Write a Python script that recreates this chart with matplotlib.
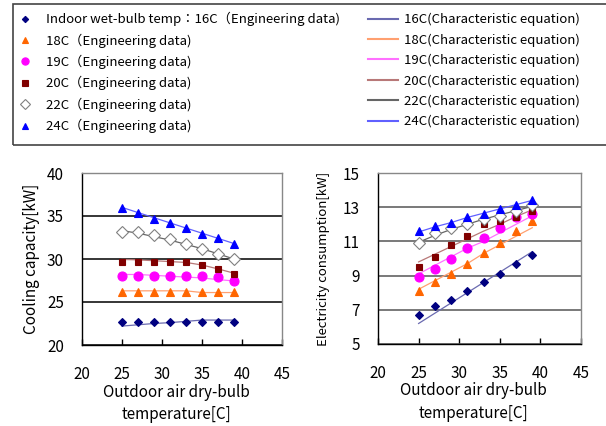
import numpy as np
import matplotlib
matplotlib.use('Agg')
import matplotlib.pyplot as plt
from matplotlib.lines import Line2D
from matplotlib.patches import Rectangle

plt.rcParams['font.family'] = ['Noto Sans CJK JP', 'DejaVu Sans']

########################################
# data

t_out = [25, 27, 29, 31, 33, 35, 37, 39]
wb_labels = ['16C', '18C', '19C', '20C', '22C', '24C']

# cooling capacity [kW], engineering data
cap_16 = [22.7, 22.7, 22.7, 22.7, 22.7, 22.7, 22.7, 22.7]
cap_18 = [26.2, 26.2, 26.2, 26.2, 26.2, 26.2, 26.2, 26.2]
cap_19 = [28.0, 28.0, 28.0, 28.0, 28.0, 28.0, 27.9, 27.4]
cap_20 = [29.7, 29.7, 29.7, 29.7, 29.7, 29.3, 28.8, 28.3]
cap_22 = [33.1, 33.1, 32.8, 32.3, 31.7, 31.2, 30.6, 30.0]
cap_24 = [35.9, 35.4, 34.7, 34.2, 33.6, 32.9, 32.4, 31.7]

# cooling capacity [kW], characteristic equation
cap_eq_16 = [22.2, 22.35, 22.5, 22.6, 22.75, 22.9, 22.9, 22.9]
cap_eq_18 = [26.3, 26.3, 26.3, 26.3, 26.3, 26.1, 26.1, 26.1]
cap_eq_19 = [28.2, 28.2, 28.1, 28.0, 27.9, 27.8, 27.6, 27.45]
cap_eq_20 = [29.95, 29.9, 29.8, 29.7, 29.6, 29.3, 28.85, 28.35]
cap_eq_22 = [33.3, 33.0, 32.6, 32.2, 31.7, 31.2, 30.6, 30.0]
cap_eq_24 = [36.0, 35.4, 34.8, 34.2, 33.6, 33.0, 32.4, 31.8]

# electricity consumption [kW], engineering data
el_16 = [6.7, 7.2, 7.6, 8.1, 8.6, 9.1, 9.7, 10.2]
el_18 = [8.1, 8.6, 9.1, 9.7, 10.3, 10.9, 11.6, 12.2]
el_19 = [8.9, 9.4, 10.0, 10.6, 11.2, 11.8, 12.4, 12.6]
el_20 = [9.5, 10.1, 10.8, 11.3, 12.0, 12.2, 12.4, 12.8]
el_22 = [10.9, 11.5, 11.8, 12.0, 12.3, 12.5, 12.8, 13.1]
el_24 = [11.6, 11.9, 12.1, 12.4, 12.6, 12.9, 13.1, 13.4]

# electricity consumption [kW], characteristic equation
el_eq_16 = [6.2, 6.8, 7.4, 8.0, 8.6, 9.2, 9.8, 10.4]
el_eq_18 = [8.2, 8.7, 9.2, 9.7, 10.3, 10.8, 11.3, 11.8]
el_eq_19 = [9.1, 9.6, 10.1, 10.6, 11.0, 11.5, 12.0, 12.5]
el_eq_20 = [9.8, 10.25, 10.7, 11.15, 11.6, 12.0, 12.45, 12.85]
el_eq_22 = [10.95, 11.35, 11.7, 12.0, 12.3, 12.55, 12.8, 13.05]
el_eq_24 = [11.55, 11.85, 12.1, 12.4, 12.65, 12.9, 13.15, 13.4]

cap_data = [cap_16, cap_18, cap_19, cap_20, cap_22, cap_24]
cap_eq = [cap_eq_16, cap_eq_18, cap_eq_19, cap_eq_20, cap_eq_22, cap_eq_24]
el_data = [el_16, el_18, el_19, el_20, el_22, el_24]
el_eq = [el_eq_16, el_eq_18, el_eq_19, el_eq_20, el_eq_22, el_eq_24]

########################################
# styles

markers = ['D', '^', 'o', 's', 'D', '^']
msizes = [4, 6, 6.5, 5, 6, 6]
mface = ['#000080', '#ff6600', '#ff00ff', '#800000', 'white', '#0000ff']
medge = ['#000080', '#ff6600', '#ff00ff', '#800000', '#808080', '#0000ff']
line_cols = ['#6a6ab0', '#ffa070', '#ff70ff', '#b87878', '#666666', '#6060ff']

fig = plt.figure(figsize=(6.06, 4.26), dpi=100)

ax1 = fig.add_axes([82/606, 1-345/426, 200/606, 172/426])
ax2 = fig.add_axes([378/606, 1-344/426, 203/606, 171/426])


def style_axis(ax, ylim, yticks, ylabel, ylab_size, labelpad, gridcol):
    ax.set_xlim(20, 45)
    ax.set_xticks([20, 25, 30, 35, 40, 45])
    ax.set_ylim(*ylim)
    ax.set_yticks(yticks)
    ax.tick_params(axis='x', direction='in', length=4, width=1, labelsize=11, pad=15)
    ax.tick_params(axis='y', length=0, labelsize=11, pad=13)
    ax.yaxis.grid(True, color=gridcol, linewidth=1.1)
    ax.set_axisbelow(True)
    for s in ['top', 'right']:
        ax.spines[s].set_color('#888888')
        ax.spines[s].set_linewidth(1)
    for s in ['left', 'bottom']:
        ax.spines[s].set_color('black')
        ax.spines[s].set_linewidth(1)
    ax.set_xlabel('Outdoor air dry-bulb\ntemperature[C]', fontsize=11, linespacing=1.4)
    ax.xaxis.set_label_coords(0.47, -0.225, transform=ax.transAxes)
    ax.xaxis.label.set_va('top')
    ax.set_ylabel(ylabel, fontsize=ylab_size, labelpad=labelpad)


for i in range(6):
    ax1.plot(t_out, cap_eq[i], color=line_cols[i], lw=0.9, zorder=2)
    ax1.plot(t_out, cap_data[i], linestyle='none', marker=markers[i], ms=msizes[i],
             mfc=mface[i], mec=medge[i], mew=0.8, zorder=3)
    ax2.plot(t_out, el_eq[i], color=line_cols[i], lw=0.9, zorder=2)
    ax2.plot(t_out, el_data[i], linestyle='none', marker=markers[i], ms=msizes[i],
             mfc=mface[i], mec=medge[i], mew=0.8, zorder=3)

style_axis(ax1, (20, 40), [20, 25, 30, 35, 40], 'Cooling capacity[kW]', 11, 5, 'black')
style_axis(ax2, (5, 15), [5, 7, 9, 11, 13, 15], 'Electricity consumption[kW]', 9.5, 9, '#555555')

########################################
# legend on top

handles = []
labels = []
for i in range(6):
    handles.append(Line2D([], [], linestyle='none', marker=markers[i], ms=msizes[i] * 0.8,
                          mfc=mface[i], mec=medge[i], mew=0.8))
    if i == 0:
        labels.append('Indoor wet-bulb temp：' + wb_labels[i] + '（Engineering data)')
    else:
        labels.append(wb_labels[i] + '（Engineering data)')
for i in range(6):
    handles.append(Line2D([], [], color=line_cols[i], lw=1.5))
    labels.append(wb_labels[i] + '(Characteristic equation)')

leg = fig.legend(handles, labels, ncol=2, loc='upper left',
                 bbox_to_anchor=(10/606, 1-12/426), frameon=False, fontsize=9.5,
                 handlelength=2.3, handletextpad=0.4, columnspacing=2.15,
                 labelspacing=0.54, borderpad=0, borderaxespad=0)

fig.patches.append(Rectangle((13/606, 1-145/426), 1.0, 141/426, transform=fig.transFigure,
                             fill=False, edgecolor='#444444', linewidth=1.2))

plt.savefig('out.png', dpi=100)
